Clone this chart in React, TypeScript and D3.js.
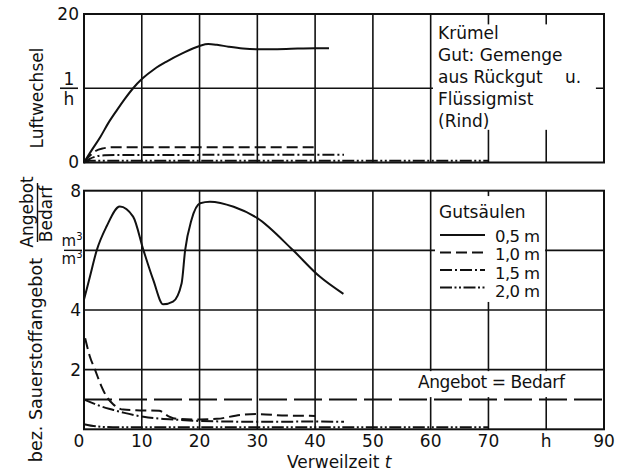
import * as d3 from 'd3'

const FONT = '"DejaVu Sans", sans-serif'
const INK = '#111'

const xTicks = [0, 10, 20, 30, 40, 50, 60, 70, 80, 90]
const xTickLabels = ['0', '10', '20', '30', '40', '50', '60', '70', 'h', '90']
const xGrid = [10, 20, 30, 40, 50, 60, 70, 80]

const topGrid = [10]
const botGrid = [2, 4, 6]
const botTickLabels: [number, string][] = [[8, '8'], [4, '4'], [2, '2']]

// Luftwechsel 1/h
const top05: [number, number][] = [
  [0, 0], [1.2, 1.5], [2.8, 3.4], [4.2, 5.3], [5.7, 7.05], [7.1, 8.6], [8.5, 10.0],
  [10.1, 11.3], [12.2, 12.6], [14.3, 13.6], [17, 14.7], [20, 15.7], [21.5, 15.95],
  [23, 15.85], [25, 15.6], [27.5, 15.35], [30, 15.25], [35, 15.3], [40, 15.4], [42.4, 15.4],
]
const top10: [number, number][] = [
  [0, 0], [1, 0.9], [2, 1.55], [3.3, 1.9], [5, 2.05], [10, 2.07], [40, 2.07],
]
const top15: [number, number][] = [
  [0, 0], [1, 0.5], [2, 0.8], [3.5, 0.97], [6, 1.0], [45, 1.05],
]
const top20: [number, number][] = [
  [0, 0], [1, 0.22], [3, 0.25], [70, 0.25],
]

// bez. Sauerstoffangebot
const bot05: [number, number][] = [
  [0, 4.35], [1, 5.1], [2.2, 6.0], [3.9, 6.8], [6.2, 7.47], [8.5, 7.13], [10.3, 6.0],
  [12, 5.0], [13.7, 4.19], [15.4, 4.28], [16.9, 4.9], [17.5, 6.0], [18.6, 7.02],
  [20.1, 7.58], [21.8, 7.63], [25.9, 7.46], [30, 7.08], [36.2, 6.0], [40.8, 5.12],
  [44.9, 4.54],
]
const bot10: [number, number][] = [
  [0.2, 3.05], [1, 2.45], [1.9, 2.0], [3, 1.45], [3.9, 1.1], [5, 0.85], [6.8, 0.66],
  [9, 0.64], [13, 0.62], [14.5, 0.45], [16, 0.35], [20, 0.33], [23, 0.35],
  [27, 0.48], [30, 0.51], [35, 0.46], [40, 0.45],
]
const bot15: [number, number][] = [
  [0, 1.0], [1.5, 0.88], [2.8, 0.78], [5.1, 0.65], [7, 0.55], [10.3, 0.42],
  [13, 0.36], [16, 0.32], [20, 0.28], [25, 0.26], [30, 0.25], [40, 0.26], [45, 0.25],
]
const bot20: [number, number][] = [
  [0, 0.17], [2, 0.1], [5, 0.07], [70, 0.07],
]
const bedarf: [number, number][] = [[0, 1], [90, 1]]

const legendLabels = ['0,5 m', '1,0 m', '1,5 m', '2,0 m']
const dashes = ['none', '11,5', '12,3,2,3', '12,2.5,2,2.5,2,2.5']
const topNote = ['Krümel', 'Gut: Gemenge', 'aus Rückgut', 'Flüssigmist', '(Rind)']

export default function App() {
  const x = d3.scaleLinear().domain([0, 90]).range([84, 604])
  const yTop = d3.scaleLinear().domain([0, 20]).range([162.5, 14])
  const yBot = d3.scaleLinear().domain([0, 8]).range([429.3, 190.7])

  const mk = (y: d3.ScaleLinear<number, number>) =>
    d3.line<[number, number]>()
      .x(d => x(d[0]))
      .y(d => y(d[1]))
      .curve(d3.curveMonotoneX)
  const lineTop = mk(yTop)
  const lineBot = mk(yBot)

  const topSeries = [top05, top10, top15, top20]
  const botSeries = [bot05, bot10, bot15, bot20]

  const txt = { fontFamily: FONT, fontSize: 17, fill: INK }

  // white boxes behind the notes (in data units)
  const box = (y: d3.ScaleLinear<number, number>, t0: number, t1: number, v0: number, v1: number) => (
    <rect x={x(t0)} y={y(v1)} width={x(t1) - x(t0)} height={y(v0) - y(v1)} fill="#fff" />
  )

  return (
    <svg width={630} height={475} style={{ position: 'absolute', left: 0, top: 0, background: '#fff' }}>
      {/* grid, top */}
      {xGrid.map(t => (
        <line key={'vt' + t} x1={x(t)} x2={x(t)} y1={yTop(0)} y2={yTop(20)} stroke={INK} strokeWidth={1.6} />
      ))}
      {topGrid.map(v => (
        <line key={'ht' + v} x1={x(0)} x2={x(90)} y1={yTop(v)} y2={yTop(v)} stroke={INK} strokeWidth={1.6} />
      ))}
      {/* grid, bottom */}
      {xGrid.map(t => (
        <line key={'vb' + t} x1={x(t)} x2={x(t)} y1={yBot(0)} y2={yBot(8)} stroke={INK} strokeWidth={1.6} />
      ))}
      {botGrid.map(v => (
        <line key={'hb' + v} x1={x(0)} x2={x(90)} y1={yBot(v)} y2={yBot(v)} stroke={INK} strokeWidth={1.6} />
      ))}

      {box(yTop, 60.4, 88.6, 4.4, 18.6)}
      {box(yBot, 60.75, 79.8, 4.27, 7.82)}
      {box(yBot, 57.3, 85.8, 1.08, 1.95)}

      {/* frames */}
      <rect x={x(0)} y={yTop(20)} width={x(90) - x(0)} height={yTop(0) - yTop(20)} fill="none" stroke={INK} strokeWidth={2} />
      <rect x={x(0)} y={yBot(8)} width={x(90) - x(0)} height={yBot(0) - yBot(8)} fill="none" stroke={INK} strokeWidth={2} />

      {/* Angebot = Bedarf */}
      <path d={lineBot(bedarf) || ''} fill="none" stroke={INK} strokeWidth={2} strokeDasharray="28,7" />

      {/* curves */}
      {topSeries.map((s, i) => (
        <path key={'ct' + i} d={lineTop(s) || ''} fill="none" stroke={INK} strokeWidth={2} strokeDasharray={dashes[i]} />
      ))}
      {botSeries.map((s, i) => (
        <path key={'cb' + i} d={lineBot(s) || ''} fill="none" stroke={INK} strokeWidth={2} strokeDasharray={dashes[i]} />
      ))}

      {/* x axis labels */}
      {xTicks.map((t, i) => (
        <text key={'xl' + t} x={x(t) - (t === 0 ? 5 : 0)} y={447} textAnchor="middle" {...txt}>{xTickLabels[i]}</text>
      ))}
      <text x={287} y={468} {...txt}>
        Verweilzeit <tspan fontStyle="italic">t</tspan>
      </text>

      {/* top y axis */}
      <text x={79} y={yTop(20)} dy="0.35em" textAnchor="end" {...txt}>20</text>
      <text x={79} y={yTop(0)} dy="0.35em" textAnchor="end" {...txt}>0</text>
      <text x={69} y={85} textAnchor="middle" {...txt}>1</text>
      <line x1={60} x2={78} y1={yTop(10)} y2={yTop(10)} stroke={INK} strokeWidth={1.6} />
      <text x={69} y={105} textAnchor="middle" {...txt}>h</text>
      <text transform="translate(43,98) rotate(-90)" textAnchor="middle" {...txt}>Luftwechsel</text>

      {/* bottom y axis */}
      {botTickLabels.map(([v, l]) => (
        <text key={'yl' + v} x={81} y={yBot(v)} dy="0.35em" textAnchor="end" {...txt}>{l}</text>
      ))}
      <g fontFamily={FONT} fontSize={15} fill={INK}>
        <text x={72} y={246} textAnchor="middle">m<tspan dy={-6} fontSize={10}>3</tspan></text>
        <line x1={64} x2={82} y1={yBot(6)} y2={yBot(6)} stroke={INK} strokeWidth={1.4} />
        <text x={72} y={264} textAnchor="middle">m<tspan dy={-6} fontSize={10}>3</tspan></text>
      </g>
      <text transform="translate(42,258) rotate(-90)" textAnchor="end" {...txt} fontSize={17.5}>bez. Sauerstoffangebot</text>
      <text transform="translate(33,212) rotate(-90)" textAnchor="middle" {...txt}>Angebot</text>
      <line x1={37.5} x2={37.5} y1={183} y2={242} stroke={INK} strokeWidth={1.4} />
      <text transform="translate(52,214) rotate(-90)" textAnchor="middle" {...txt}>Bedarf</text>

      {/* top note */}
      {topNote.map((s, i) => (
        <text key={'n' + i} x={438} y={39 + i * 22} {...txt}>{s}</text>
      ))}
      <text x={565} y={39 + 2 * 22} {...txt}>u.</text>

      {/* legend */}
      <text x={439} y={218} {...txt}>Gutsäulen</text>
      {legendLabels.map((l, i) => (
        <g key={'lg' + i}>
          <line x1={440} x2={485} y1={235 + i * 17.5} y2={235 + i * 17.5} stroke={INK} strokeWidth={2} strokeDasharray={dashes[i]} />
          <text x={495} y={242 + i * 18.3} {...txt} fontSize={16.5} letterSpacing={-0.6}>{l}</text>
        </g>
      ))}

      <text x={418} y={388} {...txt} letterSpacing={-0.4}>Angebot = Bedarf</text>
    </svg>
  )
}
